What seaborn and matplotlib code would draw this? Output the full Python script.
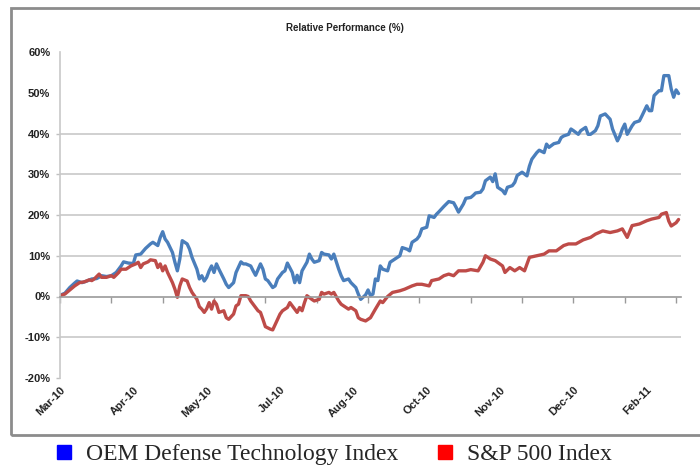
import matplotlib
matplotlib.use('Agg')
import matplotlib.pyplot as plt
import seaborn as sns
import pandas as pd
from matplotlib.lines import Line2D
from matplotlib.patches import Rectangle

# trading days since start of Mar-10 and relative performance (%)
oem_days = [0, 2, 4, 6, 7, 9, 11, 13, 15, 17, 19, 21, 23, 25, 26, 28, 30, 31, 33, 35,
            37, 38, 40, 41, 42, 43, 44, 46, 47, 48, 49, 50, 52, 53, 54, 56, 57, 58, 59, 60,
            61, 62, 63, 64, 65, 67, 68, 69, 71, 72, 74, 75, 76, 78, 79, 80, 82, 83, 84, 85,
            87, 88, 89, 91, 92, 93, 95, 96, 97, 98, 99, 101, 102, 103, 104, 106, 107, 108, 110, 111,
            112, 114, 115, 116, 118, 119, 121, 122, 123, 125, 126, 127, 128, 129, 130, 131, 132, 134, 135, 136,
            138, 139, 140, 142, 143, 144, 146, 147, 148, 150, 151, 153, 154, 155, 157, 158, 159, 161, 162, 163,
            165, 166, 168, 169, 170, 172, 173, 174, 176, 177, 178, 179, 181, 182, 183, 185, 186, 187, 189, 191,
            192, 193, 195, 196, 198, 199, 200, 202, 204, 205, 206, 208, 209, 210, 212, 213, 215, 216, 217, 219,
            220, 221, 223, 225, 226, 228, 229, 230, 231, 232, 234, 235, 237, 238, 240, 241, 242, 243, 245, 246,
            247, 249, 250, 251, 252, 253]
oem_perf = [0.3, 0.8, 2.2, 3.3, 3.8, 3.4, 3.8, 4.3, 4.4, 5.1, 4.9, 5.1, 5.9, 7.5, 8.5, 8.2, 8.1, 10.2, 10.4, 11.8,
            12.9, 13.3, 12.5, 14.5, 15.9, 14.1, 13.3, 10.8, 8.4, 6.3, 9.2, 13.7, 12.9, 11.6, 9.6, 6.7, 4.3, 5.1, 3.8, 4.7,
            6.3, 7.5, 5.9, 8.0, 6.7, 4.3, 3.0, 2.2, 3.4, 5.9, 8.5, 8.0, 8.0, 7.5, 6.3, 5.2, 8.0, 6.7, 4.3, 3.9,
            2.2, 2.6, 4.3, 5.9, 6.3, 8.2, 5.9, 3.4, 5.2, 3.4, 6.3, 8.4, 10.4, 9.2, 8.4, 8.8, 10.8, 10.4, 10.2, 9.2,
            10.4, 6.7, 5.1, 3.9, 4.3, 3.4, 2.2, 0.6, -0.7, 0.4, 1.6, 0.2, 0.6, 4.3, 3.9, 7.5, 6.7, 6.3, 8.4, 8.8,
            9.6, 10.0, 12.0, 11.6, 11.2, 13.3, 14.1, 14.9, 16.6, 17.0, 19.8, 19.4, 20.2, 20.8, 22.1, 22.7, 23.3, 23.0, 21.9, 20.7,
            22.7, 24.1, 24.3, 24.8, 25.4, 25.6, 26.4, 28.4, 29.3, 28.2, 30.1, 26.8, 26.0, 25.2, 26.8, 27.2, 28.0, 29.7, 30.5, 29.6,
            32.0, 33.7, 35.3, 35.9, 35.3, 37.4, 36.6, 37.5, 37.8, 39.0, 39.4, 39.8, 41.1, 40.7, 39.8, 40.7, 41.5, 39.8, 39.8, 40.7,
            41.9, 44.3, 44.8, 43.5, 41.1, 38.2, 39.4, 41.1, 42.3, 39.8, 41.9, 42.7, 43.1, 44.3, 46.8, 45.6, 45.6, 49.3, 50.5, 50.5,
            54.2, 54.2, 50.9, 48.9, 50.7, 49.8]

spx_days = [0, 2, 4, 6, 8, 10, 12, 13, 14, 16, 17, 19, 21, 22, 24, 25, 27, 29, 31, 32,
            33, 34, 36, 37, 39, 40, 41, 42, 43, 44, 46, 47, 48, 49, 50, 52, 53, 54, 56, 57,
            58, 59, 60, 61, 62, 63, 64, 65, 67, 68, 69, 71, 72, 73, 74, 76, 77, 78, 80, 81,
            82, 83, 84, 86, 87, 89, 90, 91, 93, 94, 95, 97, 98, 99, 100, 101, 103, 104, 106, 107,
            108, 110, 111, 112, 114, 115, 116, 118, 119, 121, 122, 123, 125, 126, 127, 129, 131, 132, 134, 136,
            139, 141, 144, 146, 148, 151, 152, 155, 157, 159, 161, 163, 166, 168, 171, 173, 174, 176, 178, 181,
            182, 184, 186, 188, 190, 192, 195, 198, 200, 203, 206, 208, 211, 214, 217, 219, 222, 225, 228, 230,
            232, 234, 237, 240, 242, 245, 246, 248, 249, 250, 252, 253]
spx_perf = [0.2, 0.6, 1.6, 2.6, 3.4, 3.6, 4.1, 3.9, 4.3, 5.5, 4.7, 4.7, 5.1, 4.7, 5.9, 6.7, 6.7, 7.5, 8.0, 8.4,
            7.1, 8.0, 8.5, 9.0, 8.8, 7.1, 8.0, 6.3, 7.5, 5.9, 3.4, 1.8, -0.2, 2.6, 4.3, 3.8, 2.2, 1.0, -0.7, -2.5,
            -3.1, -3.9, -3.0, -1.5, -3.1, -1.1, -1.9, -3.9, -3.5, -5.2, -5.6, -4.3, -2.3, -1.9, 0.2, 0.2, 0.0, -1.1, -2.7, -3.5,
            -3.9, -5.6, -7.4, -8.0, -8.2, -5.6, -4.3, -3.5, -2.7, -1.5, -2.3, -3.9, -2.7, -3.5, -1.5, 0.2, -0.7, -1.1, -0.7, 1.0,
            0.6, 1.0, 0.6, 1.0, -1.1, -1.9, -2.3, -3.1, -2.7, -3.5, -5.2, -5.6, -6.0, -5.6, -5.2, -3.1, -1.1, -1.5, 0.0, 1.0,
            1.4, 1.8, 2.6, 3.0, 3.0, 2.6, 3.9, 4.3, 5.1, 5.5, 5.1, 6.3, 6.3, 6.6, 6.3, 8.4, 10.0, 9.2, 8.8, 7.5,
            5.9, 7.1, 6.3, 7.1, 6.3, 9.6, 10.0, 10.4, 11.2, 11.2, 12.5, 12.9, 12.9, 13.9, 14.5, 15.3, 16.1, 15.7, 16.1, 16.6,
            14.5, 17.4, 17.8, 18.6, 19.0, 19.4, 20.2, 20.6, 18.5, 17.3, 18.1, 18.9]

month_labels = ['Mar-10', 'Apr-10', 'May-10', 'Jul-10', 'Aug-10', 'Oct-10', 'Nov-10', 'Dec-10', 'Feb-11']
label_days = [0, 30, 60, 90, 120, 150, 180, 210, 240]
tick_days = list(range(0, 253, 21))
y_ticks = [-20, -10, 0, 10, 20, 30, 40, 50, 60]

oem_df = pd.DataFrame({'day': oem_days, 'perf': oem_perf})
spx_df = pd.DataFrame({'day': spx_days, 'perf': spx_perf})

sns.set_theme(style='white')
plt.rcParams['font.family'] = ['Liberation Sans', 'DejaVu Sans']

fig = plt.figure(figsize=(7, 4.65), dpi=100)
ax = fig.add_axes([60 / 700, 1 - 378 / 465, 621 / 700, 326 / 465])

sns.lineplot(data=oem_df, x='day', y='perf', ax=ax, color='#4A7EBB', linewidth=2.4)
sns.lineplot(data=spx_df, x='day', y='perf', ax=ax, color='#BE4B48', linewidth=2.4)

ax.set_xlim(0, 254)
ax.set_ylim(-20, 60)
ax.set_xlabel('')
ax.set_ylabel('')

ax.set_yticks(y_ticks)
ax.set_yticklabels(['{}%'.format(v) for v in y_ticks], fontsize=8, fontweight='bold', color='#222222')
ax.tick_params(axis='y', length=3, width=1, color='#c0c0c0', pad=4, left=True)
ax.yaxis.grid(True, color='#c4c4c4', linewidth=1.1)
gl = ax.get_ygridlines()
for i in [0, 2, 7, 8]:
    gl[i].set_visible(False)
for i in [7, 8]:
    ax.yaxis.get_major_ticks()[i].tick1line.set_visible(False)

for s in ['top', 'right']:
    ax.spines[s].set_visible(False)
ax.spines['left'].set_color('#c8c8c8')
ax.spines['left'].set_linewidth(1.2)
ax.spines['bottom'].set_position(('data', 0))
ax.spines['bottom'].set_color('#9a9a9a')
ax.spines['bottom'].set_linewidth(1.2)

ax.set_xticks(tick_days)
ax.set_xticklabels([])
ax.tick_params(axis='x', length=4, width=1, color='#9a9a9a', bottom=True, direction='out')

# month labels live at the bottom of the plot area
sec = ax.secondary_xaxis(0.0)
sec.set_xticks(label_days)
sec.set_xticklabels(month_labels, rotation=45, ha='right', rotation_mode='anchor',
                    fontsize=8, fontweight='bold', color='#222222')
sec.tick_params(axis='x', length=0, pad=5)
sec.spines['bottom'].set_visible(False)

fig.text(345 / 700, 1 - 28 / 465, 'Relative Performance (%)', ha='center', va='center',
         fontsize=7, fontweight='bold', color='#222222')

fig.add_artist(Rectangle((11 / 700, 30 / 465), 1.0, 427 / 465, transform=fig.transFigure,
                         fill=False, edgecolor='#8c8c8c', linewidth=2, clip_on=False))

handles = [Line2D([], [], marker='s', linestyle='none', color='#0000FF', markersize=10),
           Line2D([], [], marker='s', linestyle='none', color='#FF0000', markersize=10)]
fig.legend(handles, ['OEM Defense Technology Index', 'S&P 500 Index'], loc='center',
           bbox_to_anchor=(0.476, 11 / 465), ncol=2, frameon=False, handlelength=0.8,
           handletextpad=0.5, columnspacing=1.6,
           prop={'family': ['Liberation Serif', 'DejaVu Serif'], 'size': 17})

fig.savefig('out.png', dpi=100)
